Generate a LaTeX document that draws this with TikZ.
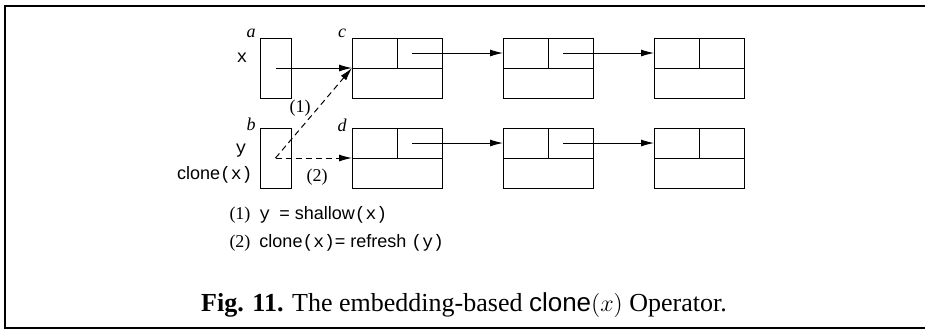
\documentclass[tikz,border=0pt]{standalone}
\usepackage{fontspec}
\setmainfont{Liberation Serif}
\setsansfont{Liberation Sans}
\setmonofont{Liberation Mono}
\usepackage{tikz}
\usetikzlibrary{arrows.meta}
\usetikzlibrary{positioning}

\tikzset{
    ptr/.style={draw, minimum width=15.5pt, minimum height=30pt, inner sep=0pt, outer sep=0pt},
    half/.style={draw, minimum width=22.5pt, minimum height=15pt, inner sep=0pt, outer sep=0pt},
    body/.style={draw, minimum width=45pt, minimum height=15pt, inner sep=0pt, outer sep=0pt},
    link/.style={-{Latex[length=6.5pt,width=3.5pt]}},
    lbl/.style={font=\fontsize{9}{10}\selectfont, inner sep=0pt},
}

\begin{document}
\begin{tikzpicture}[x=0.5pt, y=-0.5pt, line width=0.5pt]
    \useasboundingbox (0,0) rectangle (925,329);
    % frame
    \draw[line width=1.1pt] (5,329) -- (5,6) -- (925,6);
    \draw[line width=0.7pt] (5,328) -- (925,328);

    % pointers a and b
    \node[ptr, anchor=north west] (a) at (260,38) {};
    \node[ptr, anchor=north west] (b) at (260,128) {};

    % list cells
    \foreach \row/\ytop in {1/38, 2/128} {
        \foreach \col/\xl in {1/352, 2/503, 3/654} {
            \node[half, anchor=north west] (h-\row-\col) at (\xl,\ytop) {};
            \node[half, anchor=west] (n-\row-\col) at (h-\row-\col.east) {};
            \node[body, anchor=north west] (b-\row-\col) at (h-\row-\col.south west) {};
        }
        \foreach \col/\nxt in {1/2, 2/3}
            \draw[link] ([xshift=7.5pt]n-\row-\col.west) -- (h-\row-\nxt.west);
    }

    % names
    \node[lbl, font=\fontsize{9}{10}\selectfont\itshape] (l-a) at (251,33) {a};
    \node[lbl, font=\fontsize{9}{10}\selectfont\itshape] (l-b) at (251,124) {b};
    \node[lbl, font=\fontsize{9}{10}\selectfont\itshape] (l-c) at (342,33) {c};
    \node[lbl, font=\fontsize{9}{10}\selectfont\itshape] (l-d) at (342,125) {d};
    \node[lbl, font=\fontsize{9}{10}\selectfont\ttfamily] (v-x) at (242,58) {x};
    \node[lbl, font=\fontsize{9}{10}\selectfont\ttfamily] (v-y) at (241,151) {y};
    \node[lbl, anchor=east] (v-cl) at (253,175) {\textsf{clone}\texttt{(x)}};

    \draw[link] (a.center) -- (h-1-1.south west);
    \draw[link, dash pattern=on 3pt off 2pt] (b.center) -- (h-1-1.south west);
    \draw[link, dash pattern=on 3pt off 2pt] (b.center) -- (h-2-1.south west);
    \node[lbl] (s1) at (300,108) {(1)};
    \node[lbl] (s2) at (317,177) {(2)};

    % legend
    \node[lbl, anchor=west] (leg1) at (229,215) {(1)\ \ \texttt{y}\ \ \textsf{= shallow}\texttt{(x)}};
    \node[lbl, anchor=west] (leg2) at (229,243) {(2)\ \ \textsf{clone}\texttt{(x)}\textsf{= refresh }\texttt{(y)}};

    % caption
    \node[inner sep=0pt, anchor=base, font=\fontsize{13}{15}\selectfont] (cap) at (464,311)
        {\textbf{Fig. 11.} The embedding-based \textsf{clone}$(x)$ Operator.};
\end{tikzpicture}
\end{document}
